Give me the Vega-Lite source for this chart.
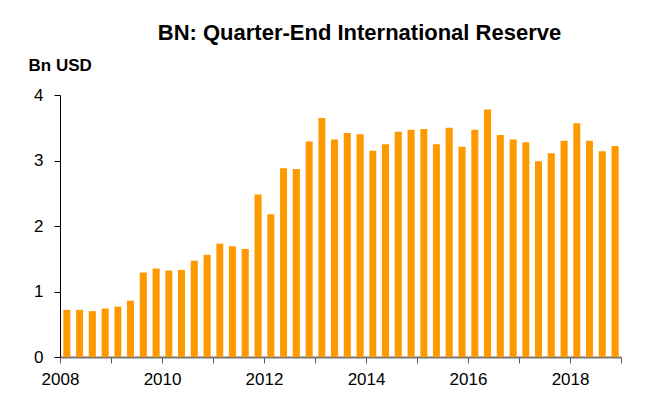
{
  "$schema": "https://vega.github.io/schema/vega-lite/v6.json",
  "autosize": "none",
  "width": 561,
  "height": 262,
  "padding": {"left": 60, "top": 95, "right": 25, "bottom": 46},
  "background": "white",
  "title": {
    "text": "BN: Quarter-End International Reserve",
    "font": "Liberation Sans",
    "fontSize": 22,
    "fontWeight": "bold",
    "color": "black",
    "anchor": "middle",
    "frame": "group",
    "dx": 19,
    "offset": 11
  },
  "config": {
    "view": {"stroke": null},
    "axis": {"labelFont": "Liberation Sans", "titleFont": "Liberation Sans"}
  },
  "data": {
    "values": [
      {"date": "2008-03-31", "reserve": 0.72},
      {"date": "2008-06-30", "reserve": 0.72},
      {"date": "2008-09-30", "reserve": 0.70},
      {"date": "2008-12-31", "reserve": 0.74},
      {"date": "2009-03-31", "reserve": 0.77},
      {"date": "2009-06-30", "reserve": 0.86},
      {"date": "2009-09-30", "reserve": 1.29},
      {"date": "2009-12-31", "reserve": 1.35},
      {"date": "2010-03-31", "reserve": 1.32},
      {"date": "2010-06-30", "reserve": 1.33},
      {"date": "2010-09-30", "reserve": 1.47},
      {"date": "2010-12-31", "reserve": 1.56},
      {"date": "2011-03-31", "reserve": 1.73},
      {"date": "2011-06-30", "reserve": 1.69},
      {"date": "2011-09-30", "reserve": 1.65},
      {"date": "2011-12-31", "reserve": 2.48},
      {"date": "2012-03-31", "reserve": 2.18},
      {"date": "2012-06-30", "reserve": 2.88},
      {"date": "2012-09-30", "reserve": 2.87},
      {"date": "2012-12-31", "reserve": 3.29},
      {"date": "2013-03-31", "reserve": 3.65},
      {"date": "2013-06-30", "reserve": 3.32},
      {"date": "2013-09-30", "reserve": 3.42},
      {"date": "2013-12-31", "reserve": 3.40},
      {"date": "2014-03-31", "reserve": 3.15},
      {"date": "2014-06-30", "reserve": 3.25},
      {"date": "2014-09-30", "reserve": 3.44},
      {"date": "2014-12-31", "reserve": 3.47},
      {"date": "2015-03-31", "reserve": 3.48},
      {"date": "2015-06-30", "reserve": 3.25},
      {"date": "2015-09-30", "reserve": 3.50},
      {"date": "2015-12-31", "reserve": 3.21},
      {"date": "2016-03-31", "reserve": 3.47},
      {"date": "2016-06-30", "reserve": 3.78},
      {"date": "2016-09-30", "reserve": 3.39},
      {"date": "2016-12-31", "reserve": 3.32},
      {"date": "2017-03-31", "reserve": 3.28},
      {"date": "2017-06-30", "reserve": 2.99},
      {"date": "2017-09-30", "reserve": 3.11},
      {"date": "2017-12-31", "reserve": 3.30},
      {"date": "2018-03-31", "reserve": 3.57},
      {"date": "2018-06-30", "reserve": 3.30},
      {"date": "2018-09-30", "reserve": 3.14},
      {"date": "2018-12-31", "reserve": 3.22}
    ]
  },
  "mark": {"type": "bar", "color": "#FF9900", "width": {"band": 0.63}},
  "encoding": {
    "x": {
      "field": "date",
      "timeUnit": "utcyearquarter",
      "type": "temporal",
      "scale": {
        "domain": [
          {"year": 2008, "month": 1, "date": 1, "utc": true},
          {"year": 2019, "month": 1, "date": 1, "utc": true}
        ]
      },
      "axis": {
        "title": null,
        "grid": false,
        "tickCount": {"interval": "year", "step": 1},
        "labelExpr": "utcyear(datum.value) % 2 == 0 ? utcFormat(datum.value, '%Y') : ''",
        "labelFontSize": 17,
        "labelColor": "black",
        "labelPadding": 8,
        "labelFlush": false,
        "labelOverlap": false,
        "domainColor": "#777777",
        "domainWidth": 2,
        "tickColor": "#555555",
        "tickSize": 6
      }
    },
    "y": {
      "field": "reserve",
      "type": "quantitative",
      "scale": {"domain": [0, 4], "nice": false},
      "axis": {
        "title": "Bn USD",
        "titleAngle": 0,
        "titleAlign": "left",
        "titleBaseline": "alphabetic",
        "titleX": -32,
        "titleY": -25,
        "titleFontSize": 17,
        "titleFontWeight": "bold",
        "titleColor": "black",
        "values": [0, 1, 2, 3, 4],
        "grid": false,
        "labelFontSize": 17,
        "labelColor": "black",
        "labelPadding": 11,
        "domainColor": "black",
        "tickColor": "black",
        "tickSize": 6
      }
    }
  }
}
